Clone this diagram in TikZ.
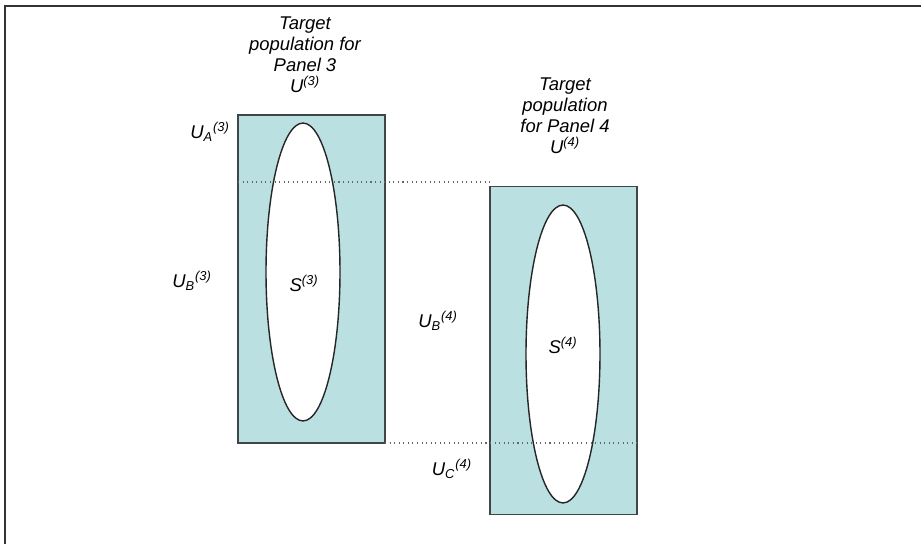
\documentclass[tikz,border=0pt]{standalone}
\usepackage{fontspec}
\setmainfont{Liberation Sans}
\usetikzlibrary{shapes.geometric}
\definecolor{popfill}{RGB}{186,224,226}
\definecolor{popedge}{RGB}{62,70,72}
\tikzset{
  panel/.style={rectangle, draw=popedge, line width=0.8pt, fill=popfill,
    inner sep=0pt, minimum width=2.94cm, minimum height=6.56cm},
  sample/.style={ellipse, draw=black!85, line width=0.8pt, fill=white,
    inner sep=0pt, minimum width=1.48cm, minimum height=5.96cm},
  cut/.style={dotted, line width=0.6pt, draw=black!60},
  lab/.style={font=\fontsize{10.5}{12}\selectfont\itshape, inner sep=0pt, align=center},
}
\newcommand{\pop}[2]{U\textsubscript{#1}\textsuperscript{(#2)}}
\begin{document}
\begin{tikzpicture}[x=0.02cm, y=-0.02cm]
  \useasboundingbox (0,0) rectangle (921,544);
  % frame
  \draw[line width=1pt, black!80] (5,544) -- (5,6) -- (921,6);
  % the two panels
  \node[panel] (U3) at (311.5,279) {};
  \node[panel] (U4) at (563.5,350.5) {};
  \node[sample] (S3) at (303,272) {};
  \node[sample] (S4) at (563,354) {};
  % cut lines
  \coordinate (cutA) at (238,182);
  \coordinate (cutB) at (385,443);
  \draw[cut] (cutA) -- (cutA -| U4.west);
  \draw[cut] (cutB) -- (cutB -| U4.east);
  % labels
  \node[lab, anchor=north] (t3) at (305,16) {Target\\population for\\Panel 3\\U\textsuperscript{(3)}};
  \node[lab, anchor=north] (t4) at (565,77) {Target\\population\\for Panel 4\\U\textsuperscript{(4)}};
  \node[lab] (ua3) at (210,132) {\pop{A}{3}};
  \node[lab] (ub3) at (192,281) {\pop{B}{3}};
  \node[lab] (s3) at (304,283) {S\textsuperscript{(3)}};
  \node[lab] (ub4) at (438,321) {\pop{B}{4}};
  \node[lab] (s4) at (563,345) {S\textsuperscript{(4)}};
  \node[lab] (uc4) at (452,469) {\pop{C}{4}};
\end{tikzpicture}
\end{document}
